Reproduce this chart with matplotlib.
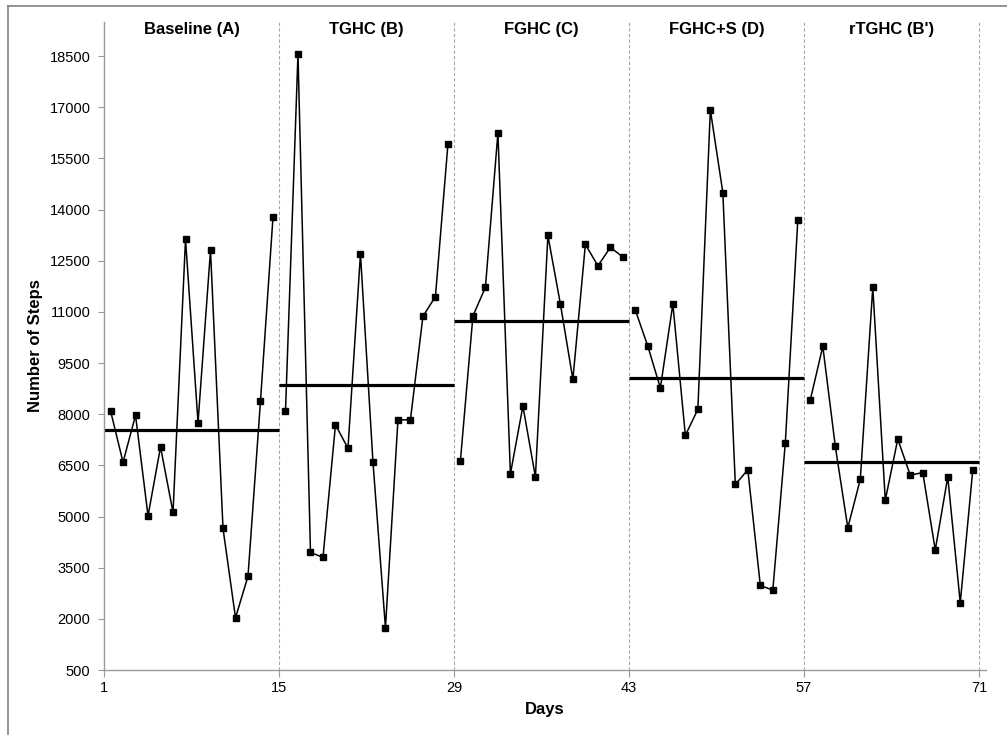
import numpy as np
import matplotlib.pyplot as plt
from matplotlib.lines import Line2D

plt.rcParams['font.family'] = ['Liberation Sans', 'DejaVu Sans']

phases = ['Baseline (A)', 'TGHC (B)', 'FGHC (C)', 'FGHC+S (D)', "rTGHC (B')"]
phase_starts = [1, 15, 29, 43, 57]

# daily step counts, 14 days per phase
steps_a = [8100, 6590, 7970, 5020, 7040, 5120, 13130, 7750, 12810, 4650, 2030, 3250, 8390, 13780]
steps_b = [8080, 18560, 3950, 3800, 7690, 7000, 12700, 6600, 1740, 7830, 7840, 10870, 11450, 15920]
steps_c = [6640, 10880, 11720, 16250, 6250, 8240, 6160, 13240, 11230, 9020, 12980, 12350, 12890, 12610]
steps_d = [11050, 9990, 8770, 11230, 7380, 8140, 16920, 14500, 5940, 6370, 2980, 2840, 7160, 13690]
steps_e = [8420, 9990, 7060, 4670, 6090, 11720, 5480, 7270, 6210, 6290, 4020, 6160, 2470, 6360]

yticks = [500, 2000, 3500, 5000, 6500, 8000, 9500, 11000, 12500, 14000, 15500, 17000, 18500]
xticks = [1, 15, 29, 43, 57, 71]

W, H = 1007, 735
fig = plt.figure(figsize=(W / 100, H / 100), dpi=100)
ax = fig.add_axes([104.3 / W, 65 / H, (986 - 104.3) / W, 648 / H])

for d in xticks[1:]:
    ax.axvline(d, color='#a8a8a8', lw=0.8, ls=(0, (3, 2)), zorder=0)

for name, start, steps in zip(phases, phase_starts, [steps_a, steps_b, steps_c, steps_d, steps_e]):
    x = np.arange(start, start + len(steps)) + 0.5
    ax.plot(x, steps, color='black', lw=1.1, marker='s', ms=4.6, mfc='black', mec='black')
    ax.hlines(np.mean(steps), start, start + len(steps), color='black', lw=2.3)
    ax.text(start + 7, 0.989, name, transform=ax.get_xaxis_transform(),
            ha='center', va='center', fontsize=12, fontweight='bold')

ax.set_xlim(1, 71.56)
ax.set_ylim(500, 19500)
ax.set_xticks(xticks)
ax.set_yticks(yticks)
ax.tick_params(axis='y', length=4, color='#999999', labelsize=10.5, pad=6)
ax.tick_params(axis='x', length=5, color='#999999', labelsize=10.5, pad=3)

for s in ['top', 'right']:
    ax.spines[s].set_visible(False)
for s in ['left', 'bottom']:
    ax.spines[s].set_color('#999999')
    ax.spines[s].set_linewidth(1.0)

ax.set_ylabel('Number of Steps', fontsize=12, fontweight='bold')
ax.yaxis.set_label_coords(-0.0695, 0.5)
ax.set_xlabel('Days', fontsize=12, fontweight='bold')
ax.xaxis.set_label_coords(0.5, -0.049)

# border of the figure frame
fig.add_artist(Line2D([7.5 / W, 7.5 / W], [0, (H - 5.7) / H], transform=fig.transFigure, color='#808080', lw=1.2))
fig.add_artist(Line2D([7.5 / W, 1], [(H - 5.7) / H, (H - 5.7) / H], transform=fig.transFigure, color='#808080', lw=1.2))

fig.savefig('out.png', dpi=100)
